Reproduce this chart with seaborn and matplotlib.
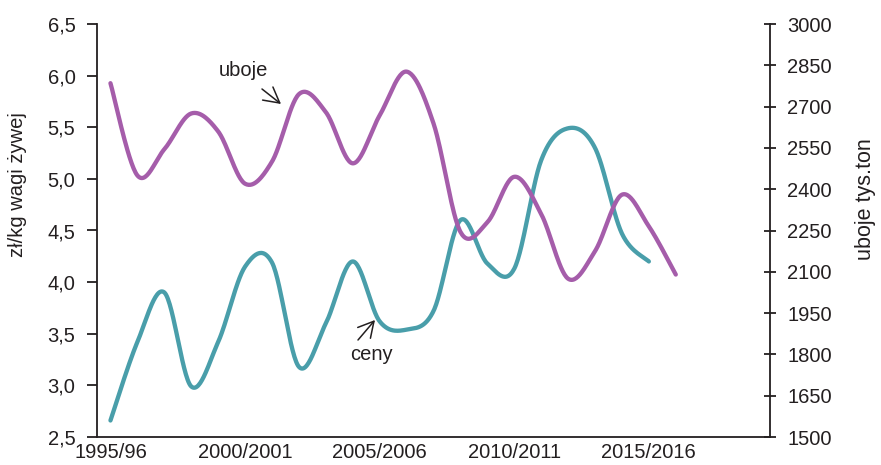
import numpy as np
import pandas as pd
import matplotlib
matplotlib.use("Agg")
import matplotlib.pyplot as plt
import seaborn as sns
from matplotlib.ticker import FixedLocator, FuncFormatter

sns.set_theme(style="white")
plt.rcParams['font.family'] = ['Liberation Sans', 'DejaVu Sans']

# ---- data ----
years_ceny = list(range(1995, 2016))
ceny = [2.66, 3.42, 3.90, 2.99, 3.42, 4.15, 4.19, 3.18, 3.60, 4.20, 3.62,
        3.54, 3.72, 4.60, 4.18, 4.13, 5.18, 5.49, 5.30, 4.47, 4.20]
years_uboje = list(range(1995, 2017))
uboje = [2785, 2450, 2545, 2675, 2610, 2420, 2500, 2745, 2680, 2494, 2668,
         2827, 2639, 2245, 2280, 2445, 2310, 2075, 2175, 2380, 2265, 2090]
x_labels = ["1995/96", "2000/2001", "2005/2006", "2010/2011", "2015/2016"]
x_label_pos = [1995, 2000, 2005, 2010, 2015]
x_tick_pos = [1997, 2002, 2007, 2012, 2017]

C_CENY = "#499EAA"
C_UBOJE = "#A55DAA"
INK = "#231F20"


def smooth(xs, ys, n=30):
    """Excel-style smoothed line (cubic Bezier through the points)."""
    xs = np.asarray(xs, float)
    ys = np.asarray(ys, float)
    P = np.column_stack([xs, ys])
    out = []
    m = len(P)
    for i in range(m - 1):
        p0 = P[i - 1] if i > 0 else P[i]
        p1 = P[i]
        p2 = P[i + 1]
        p3 = P[i + 2] if i + 2 < m else P[i + 1]
        c1 = p1 + (p2 - p0) / 6.0
        c2 = p2 - (p3 - p1) / 6.0
        t = np.linspace(0, 1, n, endpoint=(i == m - 2))[:, None]
        seg = ((1 - t) ** 3) * p1 + 3 * ((1 - t) ** 2) * t * c1 + 3 * (1 - t) * t ** 2 * c2 + t ** 3 * p2
        out.append(seg)
    out = np.vstack(out)
    return pd.DataFrame({"x": out[:, 0], "y": out[:, 1]})


fig = plt.figure(figsize=(8.81, 4.65), dpi=100)
ax = fig.add_axes([97 / 881, 1 - 437 / 465, (770 - 97) / 881, (437 - 24) / 465])
ax2 = ax.twinx()

dc = smooth(years_ceny, ceny)
du = smooth(years_uboje, uboje)
sns.lineplot(data=dc, x="x", y="y", ax=ax, color=C_CENY, linewidth=3.1,
             sort=False, estimator=None, solid_capstyle="round")
sns.lineplot(data=du, x="x", y="y", ax=ax2, color=C_UBOJE, linewidth=3.1,
             sort=False, estimator=None, solid_capstyle="round")

ax.set_xlim(1994.5, 2019.5)
ax.set_ylim(2.5, 6.5)
ax2.set_ylim(1500, 3000)

for a in (ax, ax2):
    a.set_xlabel("")
    a.set_ylabel("")
    a.grid(False)
    a.set_facecolor("none")
    for s in a.spines.values():
        s.set_color(INK)
        s.set_linewidth(1.3)
    a.spines["top"].set_visible(False)

ax.spines["right"].set_visible(False)
ax2.spines["left"].set_visible(False)
ax2.spines["bottom"].set_visible(False)

ax.set_yticks(np.arange(2.5, 6.51, 0.5))
ax.yaxis.set_major_formatter(FuncFormatter(lambda v, p: f"{v:.1f}".replace(".", ",")))
ax2.set_yticks(np.arange(1500, 3001, 150))

ax.xaxis.set_major_locator(FixedLocator(x_tick_pos))
ax.xaxis.set_major_formatter(FuncFormatter(lambda v, p: ""))
ax.xaxis.set_minor_locator(FixedLocator(x_label_pos))
ax.set_xticklabels(x_labels, minor=True)

FS = 14.5
ax.tick_params(axis="x", which="major", direction="out", length=5, width=1.3, color=INK)
ax.tick_params(axis="x", which="minor", length=0, pad=4, labelsize=FS, labelcolor=INK)
ax.tick_params(axis="y", which="major", direction="out", length=7, width=1.3, color=INK,
               pad=8.5, labelsize=FS, labelcolor=INK, left=True)
ax2.tick_params(axis="y", which="major", direction="inout", length=9, width=1.3, color=INK,
                pad=8, labelsize=FS, labelcolor=INK, right=True)

fig.text(18 / 881, 1 - 185 / 465, "zł/kg wagi żywej", rotation=90, ha="center", va="center",
         fontsize=14.5, color=INK)
fig.text(866 / 881, 1 - 199 / 465, "uboje tys.ton", rotation=90, ha="center", va="center",
         fontsize=15.5, color=INK)

# annotations
def px(x, y):
    return (x / 881, 1 - y / 465)

ax.annotate("", xy=px(281, 104), xytext=px(262, 89), xycoords="figure fraction",
            textcoords="figure fraction",
            arrowprops=dict(arrowstyle="->,head_length=0.55,head_width=0.3", color=INK,
                            lw=1.1, mutation_scale=20, shrinkA=0, shrinkB=0))
fig.text(*px(243, 70), "uboje", ha="center", va="center", fontsize=FS, color=INK)
ax.annotate("", xy=px(375, 320), xytext=px(358, 340), xycoords="figure fraction",
            textcoords="figure fraction",
            arrowprops=dict(arrowstyle="->,head_length=0.55,head_width=0.3", color=INK,
                            lw=1.1, mutation_scale=20, shrinkA=0, shrinkB=0))
fig.text(*px(371, 354), "ceny", ha="center", va="center", fontsize=FS, color=INK)

fig.savefig("out.png", dpi=100)
